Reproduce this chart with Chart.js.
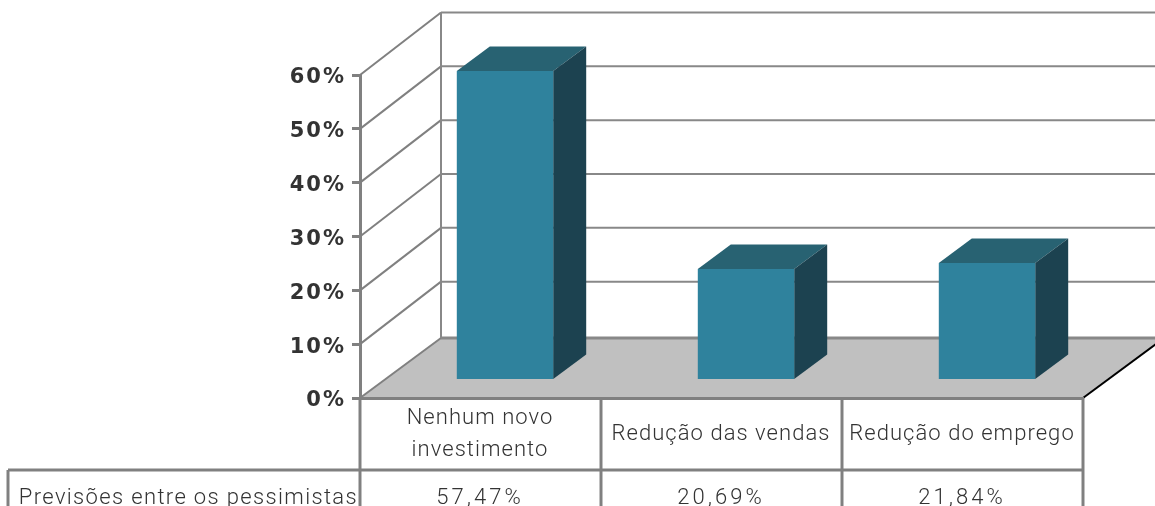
<!DOCTYPE html>
<html>
<head>
<meta charset="utf-8">
<title>Previsões entre os pessimistas</title>
<style>
  html, body { margin: 0; padding: 0; background: #fff; overflow: hidden; }
  canvas { display: block; }
</style>
<script src="https://cdn.jsdelivr.net/npm/chart.js@4"></script>
</head>
<body>
<canvas id="chart" width="1155" height="506"></canvas>
<script>
const categories = [['Nenhum novo', 'investimento'], ['Redução das vendas'], ['Redução do emprego']];
const seriesName = 'Previsões entre os pessimistas';
const seriesValues = [57.47, 20.69, 21.84];
const tableLabels = ['57,47%', '20,69%', '21,84%'];
const yTicks = [0, 10, 20, 30, 40, 50, 60];

const GRAY = '#808080';
const WALL = { dx: 81, dy: -62.5, floorDy: -60 };
const BAR_SHIFT = { dx: 24.5, dy: -17.5 };
const BAR_DEPTH = { dx: 33, dy: -24.5 };
const TABLE_FONT = '300 22px Roboto';

function line(ctx, x1, y1, x2, y2, color, width) {
    ctx.strokeStyle = color;
    ctx.lineWidth = width;
    ctx.beginPath();
    ctx.moveTo(x1, y1);
    ctx.lineTo(x2, y2);
    ctx.stroke();
}

function face(ctx, pts, color) {
    ctx.fillStyle = color;
    ctx.beginPath();
    pts.forEach((p, i) => (i ? ctx.lineTo(p[0], p[1]) : ctx.moveTo(p[0], p[1])));
    ctx.closePath();
    ctx.fill();
}

const box3d = {
    id: 'box3d',
    // floor, walls and table grid go under the axes
    beforeDraw(chart) {
        const ctx = chart.ctx;
        const { left, right, bottom } = chart.chartArea;
        const yScale = chart.scales.y;
        const xScale = chart.scales.x;
        const backFloor = bottom + WALL.floorDy;

        face(ctx, [[left, bottom], [right, bottom], [right + WALL.dx, backFloor], [left + WALL.dx, backFloor]], '#c0c0c0');

        yTicks.forEach((v) => {
            const y = yScale.getPixelForValue(v);
            const backY = v === 0 ? backFloor : y + WALL.dy;
            line(ctx, left, y, left + WALL.dx, backY, GRAY, 2);
            line(ctx, left + WALL.dx, backY, right + WALL.dx, backY, '#888', v === 0 ? 3 : 2);
        });
        const top = yScale.getPixelForValue(60) + WALL.dy;
        line(ctx, left + WALL.dx, top, left + WALL.dx, backFloor, '#888', 2);
        line(ctx, right, bottom, right + WALL.dx, backFloor, '#000', 2);

        // data table lines
        const rowY = 470;
        const tableBottom = 506;
        line(ctx, 8, rowY, right, rowY, GRAY, 3);
        line(ctx, 8, rowY, 8, tableBottom, GRAY, 3);
        line(ctx, left, bottom, left, tableBottom, GRAY, 3);
        categories.forEach((c, i) => {
            const edge = xScale.getPixelForTick(i) + (right - left) / categories.length / 2;
            line(ctx, edge, bottom, edge, tableBottom, GRAY, 3);
        });
    },
    beforeDatasetsDraw(chart) {
        const ctx = chart.ctx;
        ctx.save();
        ctx.translate(BAR_SHIFT.dx, BAR_SHIFT.dy);
        chart.getDatasetMeta(0).data.forEach((bar) => {
            const l = bar.x - bar.width / 2;
            const r = bar.x + bar.width / 2;
            const d = BAR_DEPTH;
            face(ctx, [[l, bar.y], [r, bar.y], [r + d.dx, bar.y + d.dy], [l + d.dx, bar.y + d.dy]], '#286272');
            face(ctx, [[r, bar.y], [r + d.dx, bar.y + d.dy], [r + d.dx, bar.base + d.dy], [r, bar.base]], '#1c4250');
        });
    },
    // y tick labels (ticks.z = 1) draw right after this, wider and a bit lower
    afterDatasetsDraw(chart) {
        const ctx = chart.ctx;
        ctx.restore();
        ctx.save();
        ctx.translate(0, 3);
        ctx.letterSpacing = '2px';
    },
    // table text
    afterDraw(chart) {
        const ctx = chart.ctx;
        const xScale = chart.scales.x;
        ctx.restore();
        ctx.save();
        ctx.font = TABLE_FONT;
        ctx.fillStyle = '#333';
        ctx.textBaseline = 'middle';
        ctx.textAlign = 'center';
        categories.forEach((lines, i) => {
            const x = xScale.getPixelForTick(i) - 0.5;
            const startY = 434 - (lines.length - 1) * 16;
            ctx.letterSpacing = '1.05px';
            lines.forEach((t, j) => ctx.fillText(t, x, startY + j * 32));
            ctx.letterSpacing = '3px';
            ctx.fillText(tableLabels[i], x, 498);
        });
        ctx.textAlign = 'right';
        ctx.letterSpacing = '1.35px';
        ctx.fillText(seriesName, 358, 498);
        ctx.restore();
    }
};

new Chart(document.getElementById('chart'), {
    type: 'bar',
    data: {
        labels: categories,
        datasets: [{
            label: seriesName,
            data: seriesValues,
            backgroundColor: '#2f829d',
            borderWidth: 0,
            barPercentage: 0.4,
            categoryPercentage: 1
        }]
    },
    options: {
        responsive: false,
        animation: false,
        layout: { padding: { left: 270, right: 72, top: 75, bottom: 108 } },
        plugins: { legend: { display: false }, title: { display: false }, tooltip: { enabled: false } },
        datasets: { bar: { clip: false } },
        scales: {
            x: {
                grid: { display: false },
                border: { color: GRAY, width: 3 },
                ticks: { display: false },
                afterFit: (s) => { s.height = 0; s.paddingLeft = 0; s.paddingRight = 0; }
            },
            y: {
                min: 0,
                max: 60,
                afterFit: (s) => { s.width = 90; s.paddingTop = 0; s.paddingBottom = 0; },
                afterBuildTicks: (s) => { s.ticks = yTicks.map((value) => ({ value })); },
                grid: { drawOnChartArea: false, drawTicks: true, tickLength: 8, color: GRAY, lineWidth: 3 },
                border: { color: GRAY, width: 3 },
                ticks: {
                    z: 1,
                    color: '#333',
                    padding: 6,
                    font: { family: '"DejaVu Sans"', size: 21, weight: 'bold' },
                    callback: (v) => v + '%'
                }
            }
        }
    },
    plugins: [box3d]
});
</script>
</body>
</html>
